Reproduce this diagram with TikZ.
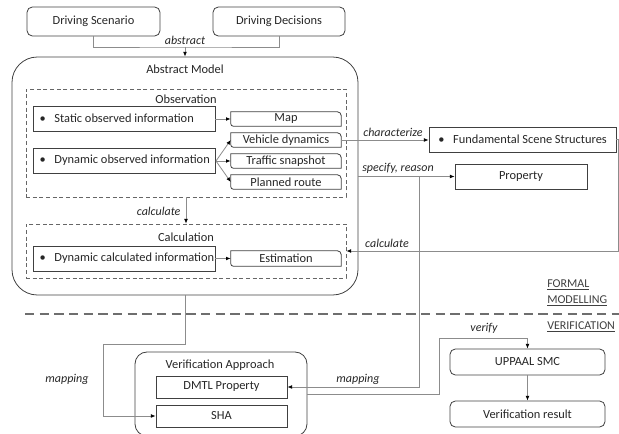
\documentclass[tikz,border=0pt]{standalone}
\usepackage{fontspec}
\setmainfont{Carlito}
\usetikzlibrary{arrows.meta}
\definecolor{bordc}{HTML}{404040}
\definecolor{linec}{HTML}{8C8C8C}
\definecolor{txtc}{HTML}{262626}
\definecolor{sepc}{HTML}{6E6E6E}
\newcommand\tabshape[1]{\draw[boxline] ([yshift=2pt]#1.south west) -- (#1.north west) -- ([xshift=-3pt]#1.north east) arc[start angle=90,end angle=0,radius=3pt] -- (#1.south east) -- ([xshift=2pt]#1.south west) arc[start angle=270,end angle=180,radius=2pt] -- cycle;}
\newcommand\bul[3]{\makebox[#1][l]{\hspace{#2}\textbullet\hspace{6.5pt}#3}}
\tikzset{
  boxline/.style={draw=bordc, line width=0.6pt},
  basebox/.style={boxline, text=txtc, font=\fontsize{9.3}{11}\selectfont, inner sep=0pt, align=center},
  rbox/.style={basebox, rounded corners=4pt},
  sbox/.style={basebox},
  tabbox/.style={draw=none, text=txtc, font=\fontsize{9.3}{11}\selectfont, inner sep=0pt},
  dbox/.style={draw=bordc!80, dashed, dash pattern=on 3pt off 2pt, line width=0.5pt, inner sep=0pt},
  bullbox/.style={basebox, inner sep=0pt},
  wh/.style 2 args={minimum width=#1*0.75pt, minimum height=#2*0.75pt},
  conn/.style={draw=linec, line width=0.6pt},
  arr/.style={conn, -{Latex[length=3.5pt,width=2.8pt,color=black]}},
  lab/.style={text=txtc, font=\fontsize{9}{11}\selectfont\itshape, inner sep=1pt},
  ttl/.style={text=txtc, font=\fontsize{9.3}{11}\selectfont, inner sep=0pt},
  sect/.style={text=bordc, font=\fontsize{9}{11}\selectfont, inner sep=0pt, anchor=west}
}
\begin{document}
\begin{tikzpicture}[x=0.75pt,y=-0.75pt]
\useasboundingbox (0,0) rectangle (619,434);
% top boxes
\node[rbox, wh={133}{29}] (ds) at (93.5,21.5) {Driving Scenario};
\node[rbox, wh={132}{29}] (dd) at (279,21.5) {Driving Decisions};
% abstract model
\node[draw=bordc, line width=0.6pt, rounded corners=19pt, wh={346}{238}] (am) at (185,176) {};
\node[ttl] (amt) at (185,69) {Abstract Model};
\node[dbox, wh={320}{108}] (obs) at (186,143) {};
\node[ttl] (obst) at (186,99) {Observation};
\node[bullbox, wh={182}{25}] (static) at (124,118.5) {\bul{136.5pt}{5pt}{Static observed information}};
\node[bullbox, wh={182}{25}] (dyn) at (124,160.5) {\bul{136.5pt}{5pt}{Dynamic observed information}};
\node[tabbox, wh={110}{14}] (map) at (286,119) {Map};
\node[tabbox, wh={110}{14}] (vd) at (286,140) {Vehicle dynamics};
\node[tabbox, wh={110}{14}] (ts) at (286,161) {Traffic snapshot};
\node[tabbox, wh={110}{14}] (pr) at (286,182) {Planned route};
\tabshape{map}\tabshape{vd}\tabshape{ts}\tabshape{pr}
\node[dbox, wh={320}{54}] (calc) at (186,251) {};
\node[ttl] (calct) at (186,237) {Calculation};
\node[bullbox, wh={182}{25}] (dcalc) at (124,258.5) {\bul{136.5pt}{5pt}{Dynamic calculated information}};
\node[tabbox, wh={110}{15}] (est) at (286,258.5) {Estimation};
\tabshape{est}
% right side
\node[bullbox, wh={187}{25}] (fss) at (522.5,139.5) {\bul{140.25pt}{7pt}{Fundamental Scene Structures}};
\node[sbox, wh={132}{25}] (prop) at (521,176.5) {Property};
% verification
\node[draw=bordc, line width=0.6pt, rounded corners=9pt, wh={172}{84}] (va) at (221,394) {};
\node[ttl] (vat) at (220,365) {Verification Approach};
\node[sbox, wh={131}{22}] (dmtl) at (221.5,387) {DMTL Property};
\node[sbox, wh={131}{22}] (sha) at (221.5,416) {SHA};
\node[rbox, wh={155}{26}] (upp) at (527.5,362) {UPPAAL SMC};
\node[rbox, wh={155}{26}] (vr) at (527.5,414) {Verification result};
% separator
\coordinate (s1) at (25,314);
\coordinate (s2) at (619,314);
\draw[draw=sepc, line width=1.6pt, dash pattern=on 7pt off 4pt] (s1) -- (s2);
\node[sect] (fm) at (547,285) {\underline{FORMAL}};
\node[sect] (fm2) at (547,301) {\underline{MODELLING}};
\node[sect] (vf) at (547,327) {\underline{VERIFICATION}};
% connectors
\coordinate (ab) at (185,47);
\draw[conn] (ds.south) |- (ab) -| (dd.south);
\draw[arr] (ab) -- (am.north);
\node[lab] (abl) at (185,40) {abstract};
\draw[arr] (static.east |- map.west) -- (map.west);
\coordinate (fan) at (216,161);
\draw[arr] (fan) -- (vd.west);
\draw[arr] (fan) -- (ts.west);
\draw[arr] (fan) -- (pr.west);
\draw[arr] (dcalc.east |- est.west) -- (est.west);
\draw[arr] (obs.south) -- (calc.north);
\node[lab, anchor=east] (cl1) at (182,211) {calculate};
\draw[arr] (vd.east) -- (vd.east -| fss.west);
\node[lab] (chl) at (393,132) {characterize};
\draw[arr] (am.east |- prop.west) -- (prop.west);
\node[lab] (spl) at (398,168) {specify, reason};
\coordinate (fr) at (618,139.5);
\draw[arr] (fss.east) -- (fr) |- (calc.east);
\node[lab] (cl2) at (387,243) {calculate};
\coordinate (br) at (419,176.5);
\draw[arr] (br) |- (dmtl.east);
\node[lab] (ml2) at (358,379) {mapping};
\coordinate (vt) at (439,338);
\draw[arr] (va.east) -| (vt) -| (upp.north);
\node[lab] (vfl) at (484,328) {verify};
\draw[arr] (upp.south) -- (vr.north);
\coordinate (m1) at (103,344);
\draw[arr] (am.south) |- (m1) |- (sha.west);
\node[lab] (ml1) at (67,379) {mapping};
\end{tikzpicture}
\end{document}
